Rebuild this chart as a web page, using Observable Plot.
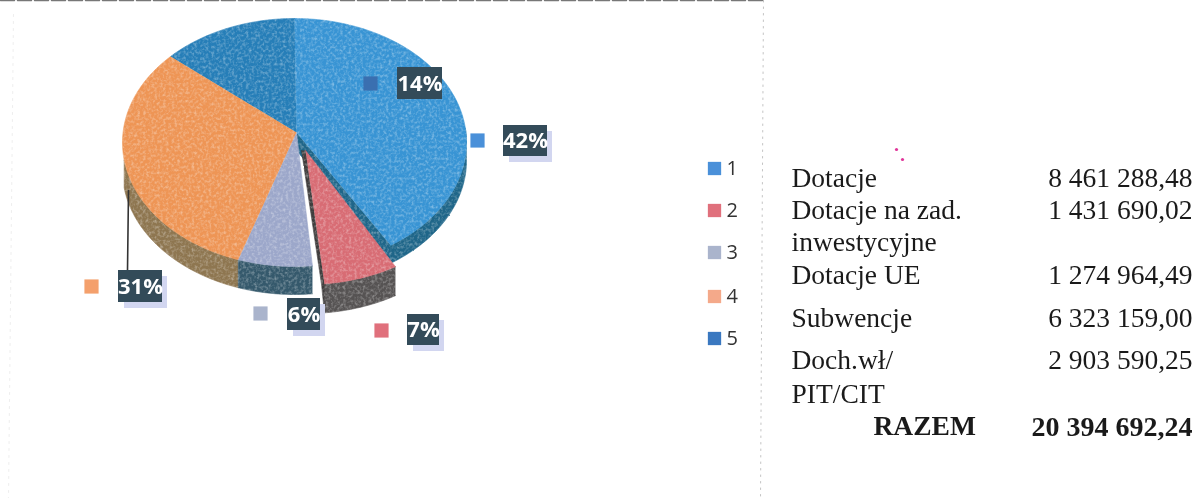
<!DOCTYPE html>
<html><head><meta charset="utf-8">
<script src="https://cdn.jsdelivr.net/npm/d3@7"></script>
<script src="https://cdn.jsdelivr.net/npm/@observablehq/plot@0.6"></script>
<style>
html,body{margin:0;padding:0;background:#fff;overflow:hidden}
svg{display:block;filter:blur(.5px)}
</style></head><body><div id="chart"></div>
<svg width="0" height="0" style="position:absolute;filter:none"><defs>
<filter id="scan" x="-2%" y="-2%" width="104%" height="104%" color-interpolation-filters="sRGB">
  <feTurbulence type="fractalNoise" baseFrequency="0.35" numOctaves="2" seed="4" result="n"/>
  <feDisplacementMap in="SourceGraphic" in2="n" scale="1.5" xChannelSelector="R" yChannelSelector="G" result="d"/>
  <feColorMatrix in="n" type="matrix" values="0 0 0 0 1  0 0 0 0 1  0 0 0 0 1  0.8 0 0 0 -0.34" result="w"/>
  <feComposite in="w" in2="d" operator="in" result="wc"/>
  <feMerge><feMergeNode in="d"/><feMergeNode in="wc"/></feMerge>
</filter></defs></svg>
<script>
// Data
const sliceIds = ["1","2","3","4","5"];
const sliceAmounts = [8461288.48,1431690.02,1274964.49,6323159.00,2903590.25];
const percentLabels = ["42%","7%","6%","31%","14%"];
const tableLabels = ["Dotacje","Dotacje na zad.","inwestycyjne","Dotacje UE","Subwencje","Doch.wł/","PIT/CIT"];
const tableAmounts = ["8 461 288,48","1 431 690,02","1 274 964,49","6 323 159,00","2 903 590,25"];
const totalLabel = "RAZEM";
const totalAmount = "20 394 692,24";

// Styles and layout (pie-centred units, 1 unit = 1 px)
const cx = 294, cy = 142, rx = 172, ry = 124, warp = 0.115;
const topColors  = ["#3894d4","#d86c74","#9ca7ca","#ee9555","#267eb8"];
const wallColors = ["#1f6689","#565353","#35596c","#8e7650",null];
const depths = [18,29,28,28,0];
const legendColors = ["#4a90d9","#e0707c","#aab4cc","#f4a98a","#3a78c0"];
const markerColors = ["#4a90d9","#e0707c","#aab4cc","#f4a06c","#3a6fb0"];
const apex = {x:2,y:-10};
const shift = [{ax:0,ay:0,dx:0,dy:0,rot:0},{ax:9,ay:18,dx:12,dy:18,rot:0.05},{ax:0,ay:0,dx:0,dy:0,rot:0},{ax:0,ay:0,dx:0,dy:0,rot:0},{ax:0,ay:0,dx:0,dy:0,rot:0}];
const labelPos = [[525,140.5,44,31],[423,329.5,32,31],[303.5,314,33,32],[140,286,44,32],[419.5,83,45,32]];
const shadowOn = [1,1,1,1,0];
const markerPos = [[477,140],[381,330],[260,313],[91,286],[370,83]];
const legendY = [168,210,252,296,338];
const tableLabelY = [186,218,250,283,326,368,402];
const tableAmountY = [186,218,283,326,368];

// Geometry derived from the values
const total = d3.sum(sliceAmounts);
let acc = 0;
const slices = sliceAmounts.map((v,i)=>{const a0=acc/total*2*Math.PI; acc+=v; return {i,a0,a1:acc/total*2*Math.PI};});
const rim = (a,sh=shift[0],d=0)=>{
  const extra = sh.rot ? sh.rot*(slices[1].a1-a)/(slices[1].a1-slices[1].a0) : 0;
  const w=a-warp*Math.sin(a)+extra;
  return {x:rx*Math.sin(w)+sh.dx,y:-ry*Math.cos(w)+sh.dy+d};
};
function arc(a0,a1,sh,d){const n=Math.max(2,Math.ceil((a1-a0)/0.02));return d3.range(n+1).map(k=>rim(a0+(a1-a0)*k/n,sh,d));}

const faces = [];
const addFace = (id,pts,fill)=>pts.forEach(p=>faces.push({id,x:p.x,y:p.y,fill}));
const s = slices;
{
  const a0 = Math.PI*0.5, a1=s[0].a1;
  addFace("w0",[...arc(a0,a1,shift[0],0),...arc(a0,a1,shift[0],depths[0]).reverse()],wallColors[0]);
  const b0=s[3].a0,b1=Math.PI*1.42;
  addFace("w3",[...arc(b0,b1,shift[3],0),...arc(b0,b1,shift[3],depths[3]).reverse()],wallColors[3]);
  addFace("w2",[...arc(s[2].a0,s[2].a1,shift[2],0),...arc(s[2].a0,s[2].a1,shift[2],depths[2]).reverse()],wallColors[2]);
  const t=rim(s[0].a1);
  addFace("c0",[{x:apex.x,y:apex.y},t,{x:t.x,y:t.y+depths[0]},{x:apex.x,y:apex.y+depths[0]}],wallColors[0]);
  for(const i of [0,4,3,2]){
    addFace("t"+i,[{x:apex.x,y:apex.y},...arc(s[i].a0,s[i].a1,shift[i],0)],topColors[i]);
  }
  const r=shift[1];
  addFace("w1",[...arc(s[1].a0,s[1].a1,r,0),...arc(s[1].a0,s[1].a1,r,depths[1]).reverse()],wallColors[1]);
  const rl=rim(s[1].a1,r);
  addFace("c1",[{x:apex.x+r.ax,y:apex.y+r.ay},rl,{x:rl.x,y:rl.y+depths[1]},{x:rl.x-3,y:rl.y},{x:apex.x+r.ax-4,y:apex.y+r.ay}],"#3f3d3d");
  addFace("t1",[{x:apex.x+r.ax,y:apex.y+r.ay},...arc(s[1].a0,s[1].a1,r,0)],topColors[1]);
}

const px = v=>v-cx, py = v=>v-cy;
const labelRows = percentLabels.map((t,i)=>({t,x:px(labelPos[i][0]),y:py(labelPos[i][1]),w:labelPos[i][2],h:labelPos[i][3],sh:shadowOn[i]}));
const markers = markerPos.map((m,i)=>({x:px(m[0]),y:py(m[1]),fill:markerColors[i]}));
const legend = sliceIds.map((t,i)=>({t,x:px(714),lx:px(726),y:py(legendY[i]),fill:legendColors[i]}));
const tableLeft = tableLabels.map((t,i)=>({t,x:px(791),y:py(tableLabelY[i])}));
const tableRight = tableAmounts.map((t,i)=>({t,x:px(1192),y:py(tableAmountY[i])}));
const leader = [{x:px(128),y:py(190)},{x:px(127),y:py(270)}];
const specks = [{x:px(896),y:py(149)},{x:px(902),y:py(159)}];
const frameRight = [{x:px(763),y:py(0)},{x:px(760),y:py(499)}];
const frameLeft = [{x:px(13),y:py(14)},{x:px(8),y:py(497)}];
const frameTop = [{x:px(0),y:py(0)},{x:px(763),y:py(0)}];

const txt = {fontFamily:"Liberation Serif",fontSize:27.5,fill:"#1a1a1a",stroke:"none",lineAnchor:"bottom",text:"t",x:"x",y:"y"};
const chart = Plot.plot({
  width:1196,height:499,margin:0,
  x:{domain:[-cx,1196-cx],range:[0,1196],axis:null},
  y:{domain:[-cy,499-cy],range:[0,499],axis:null},
  style:{background:"#fff"},
  marks:[
    Plot.line(faces,{x:"x",y:"y",z:"id",fill:"fill",stroke:"fill",strokeWidth:0.6,curve:"linear"}),
    Plot.line(frameRight,{x:"x",y:"y",stroke:"#c4c4c4",strokeWidth:1,strokeDasharray:"1.5 5"}),
    Plot.line(frameLeft,{x:"x",y:"y",stroke:"#eee",strokeWidth:1,strokeDasharray:"2 5"}),
    Plot.line(frameTop,{x:"x",y:"y",stroke:"#777",strokeWidth:1.4,strokeDasharray:"14 3"}),
    Plot.line(leader,{x:"x",y:"y",stroke:"#333",strokeWidth:1.6}),
    Plot.rect(labelRows.filter(d=>d.sh),{x1:d=>d.x-d.w/2+6,x2:d=>d.x+d.w/2+5,y1:d=>d.y-d.h/2+6,y2:d=>d.y+d.h/2+6,fill:"#d2d6f0"}),
    Plot.rect(labelRows,{x1:d=>d.x-d.w/2,x2:d=>d.x+d.w/2,y1:d=>d.y-d.h/2,y2:d=>d.y+d.h/2,fill:"#334b59"}),
    Plot.text(labelRows,{x:"x",y:"y",text:"t",fill:"#fff",fontFamily:"Open Sans",fontWeight:700,fontSize:22}),
    Plot.dot(markers,{x:"x",y:"y",symbol:"square",r:8,fill:"fill",stroke:"none"}),
    Plot.dot(legend,{x:"x",y:"y",symbol:"square",r:7.5,fill:"fill",stroke:"none"}),
    Plot.text(legend,{x:"lx",y:"y",text:"t",textAnchor:"start",fontFamily:"Open Sans",fontSize:20,fill:"#333"}),
    Plot.text(tableLeft,{...txt,textAnchor:"start"}),
    Plot.text(tableRight,{...txt,textAnchor:"end"}),
    Plot.text([{t:totalLabel,x:px(873),y:py(434)}],{...txt,textAnchor:"start",fontWeight:700}),
    Plot.text([{t:totalAmount,x:px(1192),y:py(435)}],{...txt,textAnchor:"end",fontWeight:700,fontSize:28}),
    Plot.dot(specks,{x:"x",y:"y",r:1.6,fill:"#e0359a",stroke:"none"})
  ]
});
const pieLayer = chart.querySelector('g[aria-label="line"]');
if (pieLayer) pieLayer.setAttribute("filter","url(#scan)");
document.getElementById("chart").appendChild(chart);
</script></body></html>
